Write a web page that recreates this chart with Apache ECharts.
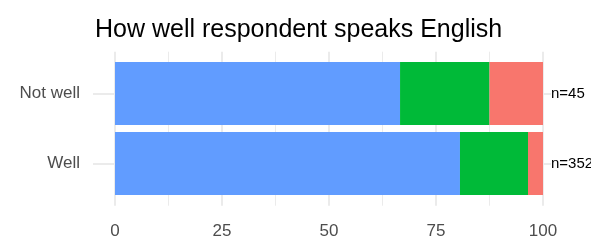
<!DOCTYPE html>
<html>
<head>
<meta charset="utf-8">
<script src="https://cdn.jsdelivr.net/npm/echarts@6/dist/echarts.min.js"></script>
<style>
  html, body { margin: 0; padding: 0; background: #fff; }
  #main { width: 591px; height: 246px; }
</style>
</head>
<body>
<div id="main"></div>
<script>
var categories = ['Not well', 'Well'];
var wellValues = [66.6, 80.6];
var okValues = [20.9, 15.9];
var poorValues = [12.5, 3.5];
var nLabels = ['n=45', 'n=352'];
var xTicks = [0, 25, 50, 75, 100];

var font = 'Liberation Sans, Arial, sans-serif';
var myChart = echarts.init(document.getElementById('main'));

myChart.setOption({
  animation: false,
  title: {
    text: 'How well respondent speaks English',
    left: 90,
    top: 13,
    textStyle: { fontSize: 25, fontWeight: 'normal', color: '#000', fontFamily: font }
  },
  grid: [
    // panel with the vertical grid lines and x labels
    { left: 115, right: 48, top: 51.7, bottom: 40.3 },
    // bars
    { left: 115, right: 40, top: 93.5, height: 70 }
  ],
  xAxis: [
    {
      gridIndex: 0,
      type: 'value',
      min: xTicks[0],
      max: xTicks[xTicks.length - 1],
      interval: 25,
      axisLine: { show: false },
      axisTick: { show: false },
      axisLabel: { margin: 17, fontSize: 17, color: '#4d4d4d', fontFamily: font },
      splitLine: { show: true, lineStyle: { color: '#ebebeb', width: 2 } },
      minorTick: { show: false, splitNumber: 2 },
      minorSplitLine: { show: true, lineStyle: { color: '#ebebeb', width: 1 } }
    },
    {
      gridIndex: 1,
      type: 'value',
      min: 0,
      max: 101.87,
      show: false
    }
  ],
  yAxis: [
    { gridIndex: 0, type: 'value', show: false },
    {
      gridIndex: 1,
      type: 'category',
      data: categories,
      inverse: true,
      boundaryGap: false,
      axisLine: { show: false },
      axisTick: { show: true, length: 22, lineStyle: { color: '#ebebeb', width: 2 } },
      axisLabel: { margin: 35, fontSize: 17, color: '#4d4d4d', fontFamily: font },
      splitLine: { show: true, lineStyle: { color: '#ebebeb', width: 2 } }
    }
  ],
  series: [
    {
      name: 'Well', type: 'bar', stack: 'all', xAxisIndex: 1, yAxisIndex: 1,
      barWidth: 63, itemStyle: { color: '#619CFF' }, data: wellValues
    },
    {
      name: 'OK', type: 'bar', stack: 'all', xAxisIndex: 1, yAxisIndex: 1,
      barWidth: 63, itemStyle: { color: '#00BA38' }, data: okValues
    },
    {
      name: 'Poor', type: 'bar', stack: 'all', xAxisIndex: 1, yAxisIndex: 1,
      barWidth: 63, itemStyle: { color: '#F8766D' }, data: poorValues,
      label: {
        show: true,
        position: 'right',
        distance: 8,
        fontSize: 15,
        color: '#000',
        fontFamily: font,
        formatter: function (p) { return nLabels[p.dataIndex]; }
      }
    }
  ]
});
</script>
</body>
</html>
